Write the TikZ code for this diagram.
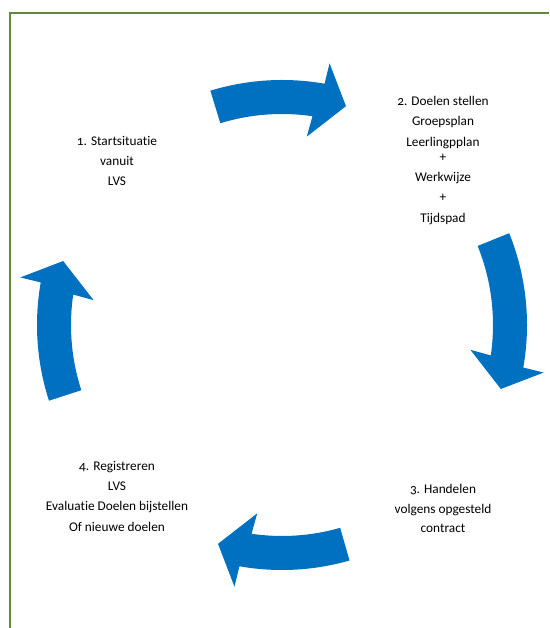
\documentclass[tikz,border=0pt]{standalone}
\usepackage{fontspec}
\setmainfont{Carlito}[Numbers=OldStyle, Ligatures=NoCommon]
\usetikzlibrary{positioning}
\definecolor{cycleblue}{RGB}{0,112,192}
\definecolor{framegreen}{RGB}{96,140,58}

\begin{document}
\begin{tikzpicture}[x=1pt, y=1pt,
    steptext/.style={align=center, inner sep=0pt, anchor=north, font=\fontsize{13.3}{20.3}\selectfont},
    cyclearrow/.style={fill=cycleblue}]
  \useasboundingbox (0,0) rectangle (549,628);
  \draw[framegreen, line width=2pt] (9.5,0) -- (9.5,615) -- (549,615);
  % four curved arrows round the middle
  \coordinate (mid) at (282,303);
  \foreach \rot/\tail in {90/17,0/22,-90/16,180/18}{
    \begin{scope}[shift={(mid)}, rotate=\rot]
      \fill[cyclearrow] (\tail:212) -- (\tail:245) arc[start angle=\tail, end angle=-10, radius=245]
        -- (-10.3:266) -- (-16.3:228) -- (-7.5:190) -- (-8.3:211)
        arc[start angle=-8.3, end angle=\tail, radius=211] -- cycle;
    \end{scope}}
  % the four steps
  \node[steptext] (start) at (117,492) {1. Startsituatie\\vanuit\\LVS};
  \node[steptext] (doelen) at (443,532) {2. Doelen stellen\\Groepsplan\\Leerlingpplan\\[-5pt]+\\Werkwijze\\+\\Tijdspad};
  \node[steptext, font=\fontsize{13.3}{19.7}\selectfont] (handelen) at (443,144) {3. Handelen\\volgens opgesteld\\contract};
  \node[steptext] (registreren) at (117,167) {4. Registreren\\LVS\\Evaluatie Doelen bijstellen\\Of nieuwe doelen};
\end{tikzpicture}
\end{document}
